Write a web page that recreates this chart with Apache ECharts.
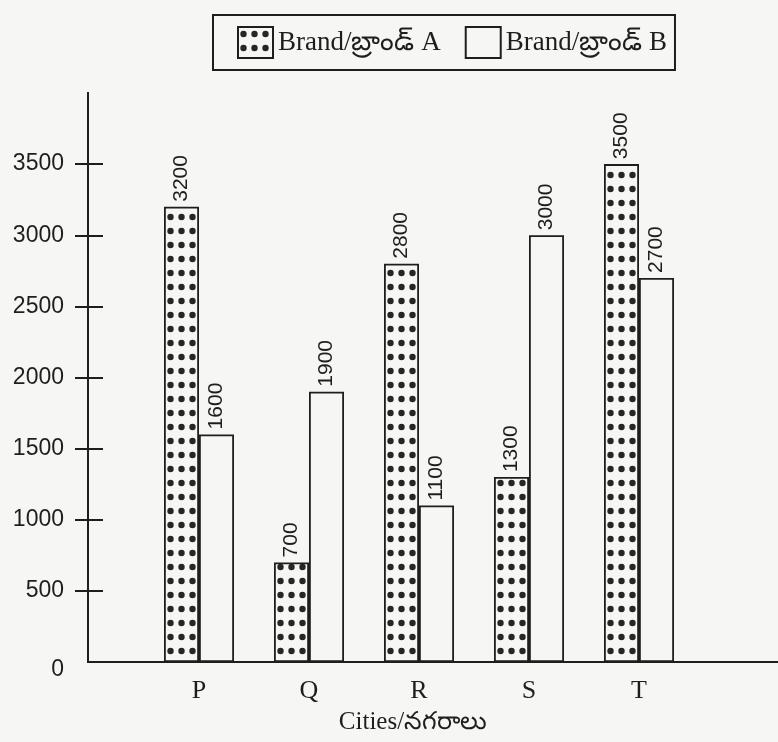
<!DOCTYPE html>
<html>
<head>
<meta charset="utf-8">
<script src="https://cdn.jsdelivr.net/npm/echarts@6/dist/echarts.min.js"></script>
<style>
html,body{margin:0;padding:0;background:#f6f6f4;}
#chart{width:778px;height:742px;}
</style>
</head>
<body>
<div id="chart"></div>
<script>
const cities = ['P', 'Q', 'R', 'S', 'T'];
const brandA = [3200, 700, 2800, 1300, 3500];
const brandB = [1600, 1900, 1100, 3000, 2700];
const yTickValues = [500, 1000, 1500, 2000, 2500, 3000, 3500];
const yLabelValues = [0, 500, 1000, 1500, 2000, 2500, 3000, 3500];
const seriesNames = ['Brand/బ్రాండ్ A', 'Brand/బ్రాండ్ B'];
const xAxisTitle = 'Cities/నగరాలు';

const paper = '#f6f6f4';
const ink = '#1e1e1e';

// dotted fill pattern for Brand A
const pc = document.createElement('canvas');
pc.width = 11; pc.height = 14;
const pctx = pc.getContext('2d');
pctx.fillStyle = '#262626';
pctx.beginPath();
pctx.arc(5.5, 7, 3.2, 0, Math.PI * 2);
pctx.fill();

const chart = echarts.init(document.getElementById('chart'), null, {renderer: 'canvas'});
const xMin = -111 / 110;
const xMax = xMin + 690 / 110;

const labelStyle = {
  show: true,
  position: 'top',
  rotate: 90,
  align: 'left',
  verticalAlign: 'middle',
  distance: 5,
  fontFamily: 'Liberation Sans, Arial, sans-serif',
  fontSize: 21,
  color: ink
};

chart.setOption({
  backgroundColor: paper,
  animation: false,
  legend: {
    left: 213,
    top: 15,
    padding: [11, 8, 11, 24],
    itemWidth: 35,
    itemHeight: 31,
    itemGap: 24,
    borderColor: ink,
    borderWidth: 2,
    icon: 'rect',
    textStyle: {fontFamily: 'Liberation Serif, serif', fontSize: 27, color: ink},
    data: seriesNames
  },
  grid: {left: 88, right: 0, top: 93, bottom: 80, containLabel: false, outerBoundsMode: 'none'},
  xAxis: {
    type: 'value',
    min: xMin,
    max: xMax,
    splitLine: {show: false},
    axisTick: {show: false},
    axisLine: {show: true, onZero: false, lineStyle: {color: ink, width: 2}},
    axisLabel: {
      customValues: cities.map((c, i) => i),
      formatter: v => cities[Math.round(v)] || '',
      fontFamily: 'Liberation Serif, serif',
      fontSize: 26,
      color: ink,
      margin: 16
    },
    name: xAxisTitle,
    nameLocation: 'middle',
    nameGap: 48,
    nameTextStyle: {fontFamily: 'Liberation Serif, serif', fontSize: 25, color: ink, padding: [0, 40, 0, 0]}
  },
  yAxis: [{
    type: 'value',
    min: 0,
    max: 4000,
    position: 'left',
    splitLine: {show: false},
    axisLine: {show: true, onZero: false, lineStyle: {color: ink, width: 2}},
    axisTick: {show: true, inside: false, length: 13, customValues: yTickValues, lineStyle: {color: ink, width: 2}},
    axisLabel: {
      customValues: yLabelValues,
      margin: 24,
      fontFamily: 'Liberation Sans, Arial, sans-serif',
      fontSize: 23,
      color: ink,
      formatter: v => v === 0 ? '{z|0}' : String(v),
      rich: {z: {fontFamily: 'Liberation Sans, Arial, sans-serif', fontSize: 23, color: ink, padding: [16, 0, 0, 0]}}
    }
  }, {
    type: 'value',
    min: 0,
    max: 4000,
    position: 'left',
    offset: 0,
    splitLine: {show: false},
    axisLine: {show: true, onZero: false, lineStyle: {color: ink, width: 2}},
    axisTick: {show: true, inside: true, length: 15, customValues: yTickValues, lineStyle: {color: ink, width: 2}},
    axisLabel: {show: false}
  }],
  series: [{
    name: seriesNames[0],
    type: 'bar',
    yAxisIndex: 0,
    barWidth: 35,
    barGap: '0%',
    itemStyle: {color: {image: pc, repeat: 'repeat'}, borderColor: ink, borderWidth: 1.8},
    label: labelStyle,
    data: brandA.map((v, i) => [i, v])
  }, {
    name: seriesNames[1],
    type: 'bar',
    yAxisIndex: 0,
    barWidth: 35,
    barGap: '0%',
    itemStyle: {color: paper, borderColor: ink, borderWidth: 1.8},
    label: labelStyle,
    data: brandB.map((v, i) => [i, v])
  }]
});
</script>
</body>
</html>
